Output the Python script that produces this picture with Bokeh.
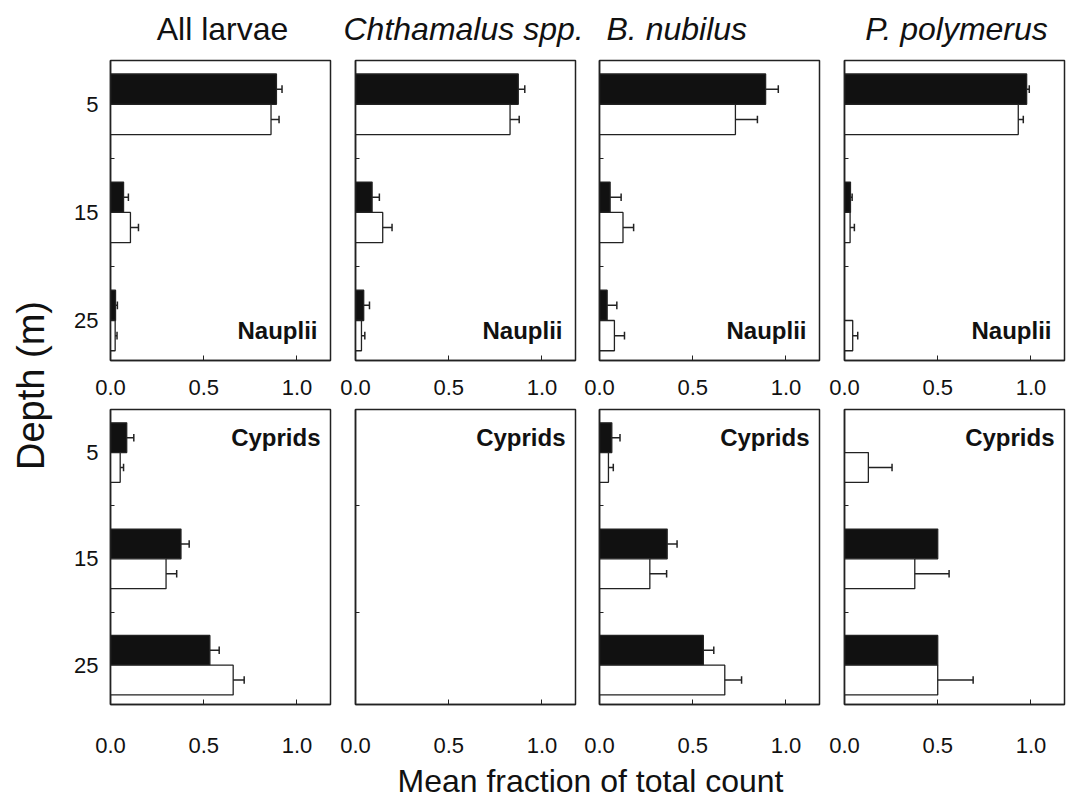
from bokeh.plotting import figure
from bokeh.models import Range1d, FixedTicker, PrintfTickFormatter, Label
from bokeh.layouts import row, column
from bokeh.embed import file_html
from bokeh.resources import INLINE

# ---------------- data ----------------
species = ["All larvae", "Chthamalus spp.", "B. nubilus", "P. polymerus"]
stages = ["Nauplii", "Cyprids"]
depths = [5, 15, 25]
x_ticks = [0.0, 0.5, 1.0]

# Nauplii: black bars (mean, upper SE) per species, depths 5/15/25
naup_black_mean = [[0.89, 0.07, 0.027], [0.873, 0.089, 0.044], [0.891, 0.057, 0.041], [0.977, 0.032, 0.0]]
naup_black_se = [[0.03, 0.026, 0.01], [0.035, 0.039, 0.031], [0.068, 0.059, 0.052], [0.014, 0.009, 0.0]]
# Nauplii: white bars
naup_white_mean = [[0.861, 0.107, 0.025], [0.829, 0.146, 0.032], [0.729, 0.126, 0.08], [0.932, 0.03, 0.044]]
naup_white_se = [[0.043, 0.043, 0.01], [0.049, 0.05, 0.018], [0.118, 0.057, 0.054], [0.027, 0.023, 0.027]]
# Cyprids: black bars
cyp_black_mean = [[0.087, 0.378, 0.533], [0.0, 0.0, 0.0], [0.066, 0.363, 0.557], [0.0, 0.5, 0.5]]
cyp_black_se = [[0.038, 0.044, 0.05], [0.0, 0.0, 0.0], [0.044, 0.053, 0.056], [0.0, 0.0, 0.0]]
# Cyprids: white bars
cyp_white_mean = [[0.052, 0.298, 0.658], [0.0, 0.0, 0.0], [0.048, 0.27, 0.672], [0.128, 0.377, 0.5]]
cyp_white_se = [[0.018, 0.057, 0.059], [0.0, 0.0, 0.0], [0.026, 0.09, 0.09], [0.127, 0.184, 0.19]]

# ---------------- style ----------------
FONT = "Liberation Sans"
INK = "#222222"
TXT = "#111111"
XMAX = 1.18
YMIN, YMAX = 0.95, 28.7
BAR_H = 2.8
CAP = 0.35
FW = 220
LEFT_W = 60
HEAD_H = 55
BORDERS = [(50, 4), (21, 4), (20, 4), (21, 2)]   # (left, right) border of each column
# title placement relative to each frame: (align, pixel offset from frame left or centre)
TITLE_POS = [("center", 2), ("left", -12), ("left", 7), ("center", 2)]
TOP_MT, TOP_FH, TOP_MB = 5, 300, 44
BOT_MT, BOT_FH, BOT_MB = 5, 295, 57


def add_bars(p, means, ses, offset, fill):
    ys = [d + offset for d, v in zip(depths, means) if v > 0]
    vs = [v for v in means if v > 0]
    p.hbar(y=ys, left=0, right=vs, height=BAR_H, fill_color=fill,
           line_color=INK, line_width=1.3)
    ey = [d + offset for d, v, s in zip(depths, means, ses) if s > 0]
    ex0 = [v for v, s in zip(means, ses) if s > 0]
    ex1 = [v + s for v, s in zip(means, ses) if s > 0]
    p.segment(x0=ex0, y0=ey, x1=ex1, y1=ey, line_color=INK, line_width=1.5)
    p.segment(x0=ex1, y0=[y - CAP for y in ey], x1=ex1, y1=[y + CAP for y in ey],
              line_color=INK, line_width=1.5)


def blank(w, h):
    f = figure(width=w, height=h, x_range=Range1d(0, w), y_range=Range1d(h, 0),
               toolbar_location=None, output_backend="svg", title=None,
               x_axis_location=None, y_axis_location=None,
               min_border=0, outline_line_color=None)
    f.xgrid.visible = False
    f.ygrid.visible = False
    return f


def panel(r, c):
    top = r == 0
    ml, mr = BORDERS[c]
    mt, fh, mb = (TOP_MT, TOP_FH, TOP_MB) if top else (BOT_MT, BOT_FH, BOT_MB)
    p = figure(width=ml + FW + mr, height=mt + fh + mb,
               x_range=Range1d(0, XMAX), y_range=Range1d(YMAX, YMIN),
               toolbar_location=None, output_backend="svg", title=None,
               min_border_left=ml, min_border_right=mr,
               min_border_top=mt, min_border_bottom=mb,
               background_fill_color="white", border_fill_color="white")
    p.xgrid.visible = False
    p.ygrid.visible = False
    p.outline_line_color = INK
    p.outline_line_width = 1.5

    xa = p.xaxis[0]
    xa.ticker = FixedTicker(ticks=x_ticks, minor_ticks=[])
    xa.formatter = PrintfTickFormatter(format="%.1f")
    xa.major_tick_in = 5
    xa.major_tick_out = 0
    xa.minor_tick_in = 0
    xa.minor_tick_out = 0
    xa.axis_line_color = INK
    xa.axis_line_width = 1.5
    xa.major_tick_line_color = INK
    xa.major_label_text_font = FONT
    xa.major_label_text_font_size = "22px"
    xa.major_label_text_color = TXT
    xa.major_label_standoff = 19 if top else 33

    ya = p.yaxis[0]
    ya.ticker = FixedTicker(ticks=depths if c == 0 else [], minor_ticks=[10, 20])
    ya.major_tick_line_color = None
    ya.minor_tick_in = 4
    ya.minor_tick_out = 0
    ya.minor_tick_line_color = INK
    ya.axis_line_color = INK
    ya.axis_line_width = 1.5
    ya.major_label_text_font = FONT
    ya.major_label_text_color = TXT
    ya.major_label_standoff = 6
    ya.major_label_text_font_size = "22px"

    if top:
        bm, bs, wm, ws = naup_black_mean[c], naup_black_se[c], naup_white_mean[c], naup_white_se[c]
    else:
        bm, bs, wm, ws = cyp_black_mean[c], cyp_black_se[c], cyp_white_mean[c], cyp_white_se[c]
    add_bars(p, bm, bs, -BAR_H / 2, "#111111")
    add_bars(p, wm, ws, BAR_H / 2, "white")

    if top:
        lab = Label(x=XMAX, y=YMAX - 30 * (YMAX - YMIN) / TOP_FH, x_offset=-13, text=stages[0],
                    text_align="right", text_baseline="alphabetic",
                    text_font=FONT, text_font_style="bold", text_font_size="24px",
                    text_color=TXT)
    else:
        lab = Label(x=XMAX, y=YMIN + 28 * (YMAX - YMIN) / BOT_FH, x_offset=-10, text=stages[1],
                    text_align="right", text_baseline="alphabetic",
                    text_font=FONT, text_font_style="bold", text_font_size="24px",
                    text_color=TXT)
    p.add_layout(lab)
    return p


top_row = row(*[panel(0, c) for c in range(4)], spacing=0)
bot_row = row(*[panel(1, c) for c in range(4)], spacing=0)
grid = column(top_row, bot_row, spacing=0)

GRID_H = (TOP_MT + TOP_FH + TOP_MB) + (BOT_MT + BOT_FH + BOT_MB)
TOTAL_W = LEFT_W + sum(l + FW + r for l, r in BORDERS)

# column titles
header = blank(TOTAL_W, HEAD_H)
x0 = LEFT_W
for c, (l, r) in enumerate(BORDERS):
    frame_left = x0 + l
    al, off = TITLE_POS[c]
    tx = frame_left + (FW / 2 if al == "center" else 0) + off
    header.add_layout(Label(x=tx, y=28, text=species[c], text_align=al,
                            text_baseline="middle", text_font=FONT, text_font_size="32px",
                            text_font_style="normal" if c == 0 else "italic",
                            text_color=TXT))
    x0 += l + FW + r

left = blank(LEFT_W, GRID_H)
left.add_layout(Label(x=30, y=385 - HEAD_H, text="Depth (m)", angle=90, angle_units="deg",
                      text_align="center", text_baseline="middle",
                      text_font=FONT, text_font_size="38px", text_color=TXT))

BOT_H = 804 - GRID_H - HEAD_H
bottom = blank(TOTAL_W, BOT_H)
bottom.add_layout(Label(x=590, y=19, text="Mean fraction of total count",
                        text_align="center", text_baseline="middle",
                        text_font=FONT, text_font_size="32px", text_color=TXT))

layout = column(header, row(left, grid, spacing=0), bottom, spacing=0)

with open("out.html", "w") as f:
    f.write(file_html(layout, INLINE))
